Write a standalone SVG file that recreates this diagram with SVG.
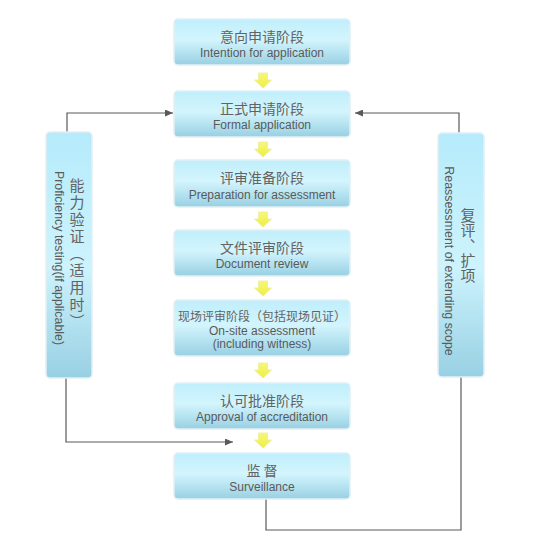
<svg xmlns="http://www.w3.org/2000/svg" width="551" height="549" viewBox="0 0 551 549">
<defs>
<linearGradient id="gBox" x1="0" y1="0" x2="0" y2="1">
<stop offset="0" stop-color="#bfeefb"/>
<stop offset="0.45" stop-color="#d3f5fd"/>
<stop offset="1" stop-color="#98d0e3"/>
</linearGradient>
<linearGradient id="gSide" x1="0" y1="0" x2="0" y2="1">
<stop offset="0" stop-color="#b5ebfb"/>
<stop offset="0.55" stop-color="#cdf3fd"/>
<stop offset="1" stop-color="#98d0e3"/>
</linearGradient>
<linearGradient id="gYel" x1="0" y1="0" x2="0" y2="1">
<stop offset="0" stop-color="#f7f77a"/>
<stop offset="1" stop-color="#eeee44"/>
</linearGradient>
<marker id="ah" markerUnits="userSpaceOnUse" markerWidth="8" markerHeight="7" refX="8" refY="3.5" orient="auto">
<path d="M0,0 L8,3.5 L0,7 z" fill="#5a5a5a"/>
</marker>
<path id="ya" d="M-4.5,0 h9 v7 h4 l-8.5,8 l-8.5,-8 h4 z"/>
</defs>
<style>
.box{fill:url(#gBox);stroke:#e2f0f5;stroke-width:1.5}
.side{fill:url(#gSide);stroke:#e2f0f5;stroke-width:1.5}
.cn{font-family:"Noto Sans CJK SC","Liberation Sans",sans-serif;font-size:14px;fill:#636363;text-anchor:middle}
.en{font-family:"Liberation Sans",Arial,sans-serif;font-size:12px;fill:#5a5a5a;text-anchor:middle}
.vcn{font-family:"Noto Sans CJK SC",sans-serif;font-size:15px;fill:#636363;text-anchor:middle;writing-mode:vertical-rl}
.ven{font-family:"Liberation Sans",Arial,sans-serif;font-size:12.4px;fill:#5a5a5a;text-anchor:middle}
.conn{fill:none;stroke:#5a5a5a;stroke-width:1.2}
.yel{fill:url(#gYel);stroke:#ecec9a;stroke-width:0.8}
</style>
<rect width="551" height="549" fill="#ffffff"/>

<g id="connectors">
<path class="conn" d="M67,132 V113 H173" marker-end="url(#ah)"/>
<path class="conn" d="M66,378 V442 H233" marker-end="url(#ah)"/>
<path class="conn" d="M459,133 V113 H355" marker-end="url(#ah)"/>
<path class="conn" d="M266,499 V530 H461 V377"/>
<use href="#ya" class="yel" x="263" y="73"/>
<use href="#ya" class="yel" x="263" y="142"/>
<use href="#ya" class="yel" x="263" y="212"/>
<use href="#ya" class="yel" x="263" y="281"/>
<use href="#ya" class="yel" x="263" y="363"/>
<use href="#ya" class="yel" x="263" y="433"/>
</g>

<g id="n1">
<rect class="box" x="174" y="19" width="176" height="46" rx="4"/>
<text class="cn" x="262" y="42">意向申请阶段</text>
<text class="en" x="262" y="57">Intention for application</text>
</g>
<g id="n2">
<rect class="box" x="174" y="91" width="176" height="46" rx="4"/>
<text class="cn" x="262" y="114">正式申请阶段</text>
<text class="en" x="262" y="129">Formal application</text>
</g>
<g id="n3">
<rect class="box" x="174" y="160" width="176" height="47" rx="4"/>
<text class="cn" x="262" y="183">评审准备阶段</text>
<text class="en" x="262" y="199">Preparation for assessment</text>
</g>
<g id="n4">
<rect class="box" x="174" y="230" width="176" height="46" rx="4"/>
<text class="cn" x="262" y="253">文件评审阶段</text>
<text class="en" x="262" y="268">Document review</text>
</g>
<g id="n5">
<rect class="box" x="174" y="300" width="176" height="56" rx="4"/>
<text class="cn" x="262" y="321" style="font-size:12px">现场评审阶段（包括现场见证）</text>
<text class="en" x="262" y="335">On-site assessment</text>
<text class="en" x="262" y="348">(including witness)</text>
</g>
<g id="n6">
<rect class="box" x="174" y="383" width="176" height="46" rx="4"/>
<text class="cn" x="262" y="406">认可批准阶段</text>
<text class="en" x="262" y="421">Approval of accreditation</text>
</g>
<g id="n7">
<rect class="box" x="174" y="453" width="176" height="46" rx="4"/>
<text class="cn" x="262" y="476">监 督</text>
<text class="en" x="262" y="491">Surveillance</text>
</g>

<g id="left">
<rect class="side" x="46" y="132" width="46" height="246" rx="4"/>
<text class="vcn" x="77" y="254" style="letter-spacing:2px">能力验证（适用时）</text>
<text class="ven" transform="translate(55,258) rotate(90)">Proficiency testing(if applicable)</text>
</g>
<g id="right">
<rect class="side" x="438" y="133" width="46" height="244" rx="4"/>
<text class="vcn" x="468" y="245">复评、扩项</text>
<text class="ven" transform="translate(445,261) rotate(90)">Reassessment of extending scope</text>
</g>
</svg>
